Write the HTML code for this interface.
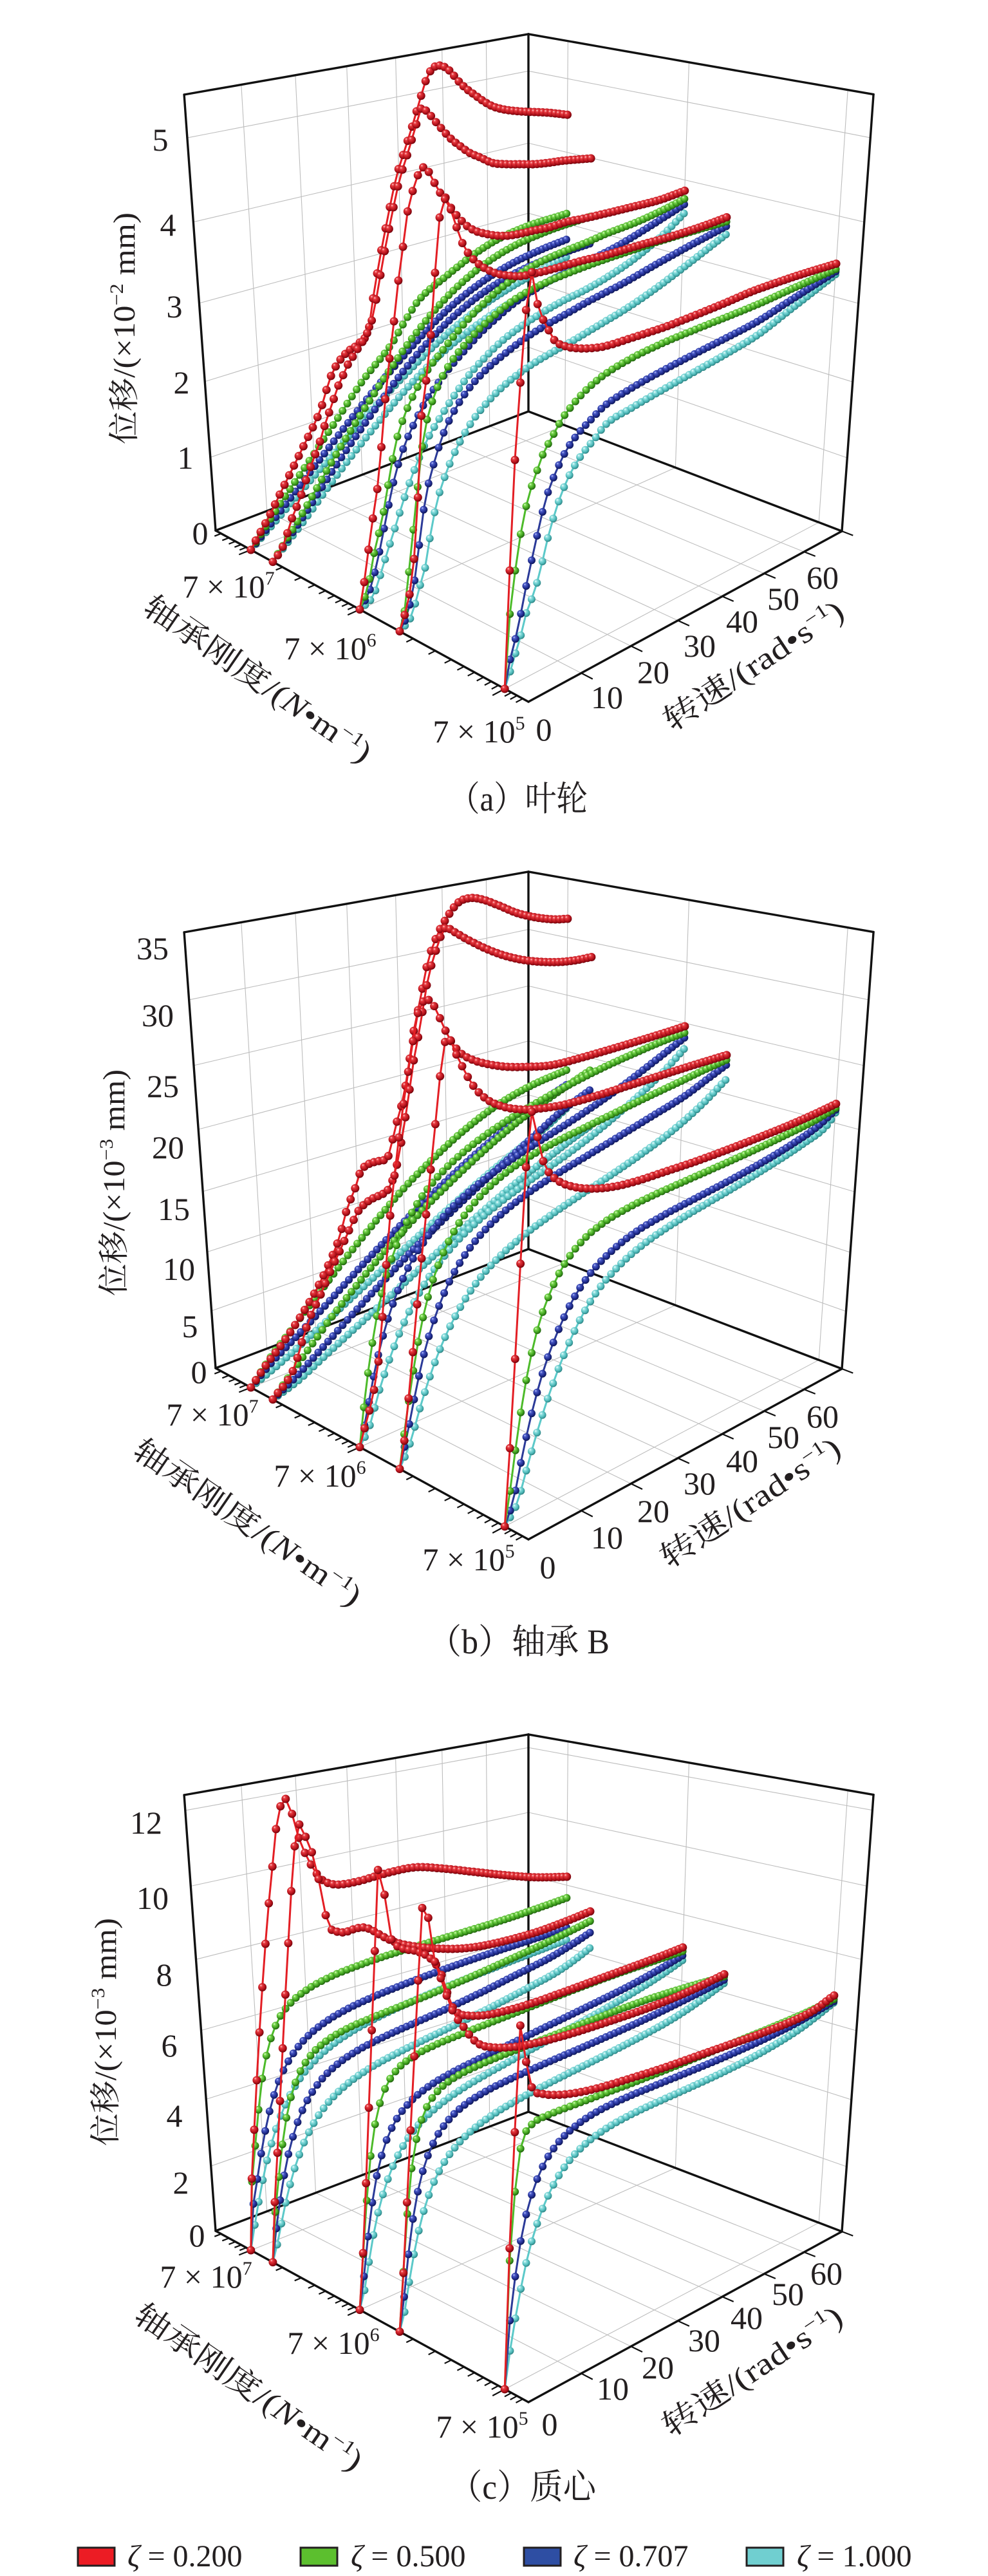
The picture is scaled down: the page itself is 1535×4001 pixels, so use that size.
<!DOCTYPE html>
<html><head><meta charset="utf-8"><title>chart</title>
<style>
html,body{margin:0;padding:0;background:#fff;width:1535px;height:4001px;overflow:hidden}
svg{display:block}
text{font-family:"Liberation Serif","Noto Serif CJK SC",serif;fill:#231f20}
</style></head><body>
<svg id="svg" xmlns="http://www.w3.org/2000/svg" width="1535" height="4001" viewBox="0 0 1535 4001">
<defs>
<radialGradient id="gr" cx="0.42" cy="0.4" r="0.62" fx="0.32" fy="0.28"><stop offset="0" stop-color="#ffd2d2"/><stop offset="0.25" stop-color="#e83a40"/><stop offset="0.7" stop-color="#b3121b"/><stop offset="1" stop-color="#6a0008"/></radialGradient>
<radialGradient id="gg" cx="0.42" cy="0.4" r="0.62" fx="0.32" fy="0.28"><stop offset="0" stop-color="#eaffd8"/><stop offset="0.25" stop-color="#7ad850"/><stop offset="0.7" stop-color="#3c9c1c"/><stop offset="1" stop-color="#1d5a0c"/></radialGradient>
<radialGradient id="gb" cx="0.42" cy="0.4" r="0.62" fx="0.32" fy="0.28"><stop offset="0" stop-color="#c8d0ff"/><stop offset="0.25" stop-color="#4a5ac8"/><stop offset="0.7" stop-color="#1f2b8c"/><stop offset="1" stop-color="#0c1450"/></radialGradient>
<radialGradient id="gc" cx="0.42" cy="0.4" r="0.62" fx="0.32" fy="0.28"><stop offset="0" stop-color="#ffffff"/><stop offset="0.25" stop-color="#92e2e2"/><stop offset="0.7" stop-color="#4cb8b8"/><stop offset="1" stop-color="#2a7c7c"/></radialGradient>
</defs>
<rect width="1535" height="4001" fill="#fff"/>
<g id="p0"></g>
<g id="p1" transform="translate(0,1301)"></g>
<g id="p2" transform="translate(0,2641)"></g>

<!-- panel a text -->
<g font-size="50" text-anchor="middle">
<text x="311" y="845">0</text><text x="288" y="728">1</text><text x="282" y="611">2</text><text x="271" y="493">3</text><text x="261" y="366">4</text><text x="249" y="234">5</text>
<text x="355" y="928">7 × 10<tspan dy="-20" font-size="30">7</tspan></text>
<text x="513" y="1024">7 × 10<tspan dy="-20" font-size="30">6</tspan></text>
<text x="744" y="1153">7 × 10<tspan dy="-20" font-size="30">5</tspan></text>
<text x="845" y="1150">0</text><text x="943" y="1100">10</text><text x="1015" y="1061">20</text><text x="1087" y="1020">30</text><text x="1153" y="982">40</text><text x="1217" y="947">50</text><text x="1278" y="914">60</text>
<text transform="translate(192,510) rotate(-90)" y="17" font-size="48" textLength="360" lengthAdjust="spacingAndGlyphs">位移/(×10<tspan dy="-18" font-size="30">−2</tspan><tspan dy="18"> mm)</tspan></text>
<text transform="translate(401,1054) rotate(34.5)" y="17" font-size="48" textLength="418" lengthAdjust="spacingAndGlyphs">轴承刚度/(<tspan font-style="italic">N</tspan>•m<tspan dy="-18" font-size="30">−1</tspan><tspan dy="18">)</tspan></text>
<text transform="translate(1170,1033) rotate(-33.6)" y="17" font-size="48" textLength="325" lengthAdjust="spacingAndGlyphs">转速/(rad•s<tspan dy="-18" font-size="30">−1</tspan><tspan dy="18">)</tspan></text>
</g>
<!-- panel b text -->
<g font-size="50" text-anchor="middle" transform="translate(0,1301)">
<text x="309" y="847">0</text><text x="295" y="776">5</text><text x="278" y="687">10</text><text x="270" y="594">15</text><text x="261" y="498">20</text><text x="253" y="403">25</text><text x="245" y="293">30</text><text x="237" y="189">35</text>
<text x="330" y="913">7 × 10<tspan dy="-20" font-size="30">7</tspan></text>
<text x="497" y="1008">7 × 10<tspan dy="-20" font-size="30">6</tspan></text>
<text x="728" y="1138">7 × 10<tspan dy="-20" font-size="30">5</tspan></text>
<text x="851" y="1150">0</text><text x="943" y="1104">10</text><text x="1015" y="1063">20</text><text x="1087" y="1020">30</text><text x="1153" y="985">40</text><text x="1217" y="948">50</text><text x="1278" y="916">60</text>
<text transform="translate(176,536) rotate(-90)" y="17" font-size="48" textLength="352" lengthAdjust="spacingAndGlyphs">位移/(×10<tspan dy="-18" font-size="30">−3</tspan><tspan dy="18"> mm)</tspan></text>
<text transform="translate(385,1063) rotate(34.5)" y="17" font-size="48" textLength="418" lengthAdjust="spacingAndGlyphs">轴承刚度/(<tspan font-style="italic">N</tspan>•m<tspan dy="-18" font-size="30">−1</tspan><tspan dy="18">)</tspan></text>
<text transform="translate(1165,1032) rotate(-33.6)" y="17" font-size="48" textLength="325" lengthAdjust="spacingAndGlyphs">转速/(rad•s<tspan dy="-18" font-size="30">−1</tspan><tspan dy="18">)</tspan></text>
</g>
<!-- panel c text -->
<g font-size="50" text-anchor="middle" transform="translate(0,2641)">
<text x="306" y="848">0</text><text x="281" y="766">2</text><text x="271" y="662">4</text><text x="263" y="553">6</text><text x="255" y="443">8</text><text x="237" y="324">10</text><text x="227" y="207">12</text>
<text x="320" y="912">7 × 10<tspan dy="-20" font-size="30">7</tspan></text>
<text x="518" y="1015">7 × 10<tspan dy="-20" font-size="30">6</tspan></text>
<text x="749" y="1145">7 × 10<tspan dy="-20" font-size="30">5</tspan></text>
<text x="854" y="1141">0</text><text x="952" y="1086">10</text><text x="1022" y="1053">20</text><text x="1094" y="1011">30</text><text x="1160" y="976">40</text><text x="1224" y="939">50</text><text x="1284" y="907">60</text>
<text transform="translate(163,515) rotate(-90)" y="17" font-size="48" textLength="354" lengthAdjust="spacingAndGlyphs">位移/(×10<tspan dy="-18" font-size="30">−3</tspan><tspan dy="18"> mm)</tspan></text>
<text transform="translate(387,1066) rotate(34.5)" y="17" font-size="48" textLength="418" lengthAdjust="spacingAndGlyphs">轴承刚度/(<tspan font-style="italic">N</tspan>•m<tspan dy="-18" font-size="30">−1</tspan><tspan dy="18">)</tspan></text>
<text transform="translate(1168,1041) rotate(-33.6)" y="17" font-size="48" textLength="325" lengthAdjust="spacingAndGlyphs">转速/(rad•s<tspan dy="-18" font-size="30">−1</tspan><tspan dy="18">)</tspan></text>
</g>

<!-- captions -->
<text x="805" y="1259" text-anchor="middle" font-size="54" textLength="216" lengthAdjust="spacingAndGlyphs">（a）叶轮</text>
<text x="806" y="2568" text-anchor="middle" font-size="54" textLength="282" lengthAdjust="spacingAndGlyphs">（b）轴承 B</text>
<text x="812" y="3881" text-anchor="middle" font-size="54" textLength="228" lengthAdjust="spacingAndGlyphs">（c）质心</text>

<!-- legend -->
<g stroke="#231f20" stroke-width="3">
<rect x="121" y="3957" width="57" height="28" fill="#ec1c24"/>
<rect x="467" y="3957" width="57" height="28" fill="#5cbf2e"/>
<rect x="814" y="3957" width="57" height="28" fill="#2e4ea3"/>
<rect x="1160" y="3957" width="57" height="28" fill="#70cfd0"/>
</g>
<g font-size="48">
<text x="198" y="3986"><tspan font-style="italic">ζ</tspan> = 0.200</text>
<text x="545" y="3986"><tspan font-style="italic">ζ</tspan> = 0.500</text>
<text x="891" y="3986"><tspan font-style="italic">ζ</tspan> = 0.707</text>
<text x="1238" y="3986"><tspan font-style="italic">ζ</tspan> = 1.000</text>
</g>
</svg>
<script>
(function(){
var NS='http://www.w3.org/2000/svg';
function mk(tag,at,par){var e=document.createElementNS(NS,tag);for(var k in at)e.setAttribute(k,at[k]);par.appendChild(e);return e;}
var X0=821,Y0=1090,X1=335,Y1=824,X2=821,Y2=639,X3=1308,Y3=825;
var sx=X0-X1+X2-X3,sy=Y0-Y1+Y2-Y3,dx1=X1-X2,dx2=X3-X2,dy1=Y1-Y2,dy2=Y3-Y2;
var den=dx1*dy2-dx2*dy1;
var G=(sx*dy2-sy*dx2)/den,Hh=(dx1*sy-dy1*sx)/den;
var A=X1-X0+G*X1,Bc=X3-X0+Hh*X3,C=X0,D=Y1-Y0+G*Y1,E=Y3-Y0+Hh*Y3,Fc=Y0;
var VX=821,VY=7550,H0=826;
function fl(u,v){var w=G*u+Hh*v+1;return [(A*u+Bc*v+C)/w,(D*u+E*v+Fc)/w,w];}
function P(u,v,t){var f=fl(u,v);var dx=f[0]-VX,dy=f[1]-VY;var d0=Math.hypot(dx,dy);var d1=d0+H0/f[2]+9*u*v;var iv=1/d0+t*(1/d1-1/d0);var s=1/iv/d0;return [VX+dx*s,VY+dy*s];}
function INV(u,x,y){var tg=Math.atan2(x-VX,VY-y);var lo=-0.6,hi=1.6;for(var i=0;i<50;i++){var m=(lo+hi)/2;var f=fl(u,m);if(Math.atan2(f[0]-VX,VY-f[1])<tg)lo=m;else hi=m;}var v=(lo+hi)/2;var f2=fl(u,v);var d0=Math.hypot(f2[0]-VX,f2[1]-VY);var d1=d0+H0/f2[2]+9*u*v;var dt=Math.hypot(x-VX,y-VY);return [v,(1/dt-1/d0)/(1/d1-1/d0)];}
function mono(xs,ys){var n=xs.length;var d=[],m=[];for(var i=0;i<n-1;i++)d.push((ys[i+1]-ys[i])/(xs[i+1]-xs[i]));m[0]=d[0];m[n-1]=d[n-2];for(i=1;i<n-1;i++)m[i]=(d[i-1]*d[i]<=0)?0:(d[i-1]+d[i])/2;for(i=0;i<n-1;i++){if(d[i]===0){m[i]=0;m[i+1]=0;continue;}var a=m[i]/d[i],b=m[i+1]/d[i],s=a*a+b*b;if(s>9){var tau=3/Math.sqrt(s);m[i]=tau*a*d[i];m[i+1]=tau*b*d[i];}}
var k0=n-2;while(k0>0&&xs[n-1]-xs[k0]<0.08)k0--;var es=(ys[n-1]-ys[k0])/(xs[n-1]-xs[k0]);if(es>2)es=2;if(es<-2)es=-2;
return function(x){if(x<=xs[0])return ys[0];if(x>=xs[n-1]){return ys[n-1]+es*(x-xs[n-1]);}var j=0;while(j<n-2&&x>xs[j+1])j++;var h=xs[j+1]-xs[j],t=(x-xs[j])/h,t2=t*t,t3=t2*t;return (2*t3-3*t2+1)*ys[j]+(t3-2*t2+t)*h*m[j]+(-2*t3+3*t2)*ys[j+1]+(t3-t2)*h*m[j+1];};}
var MAPS={0:function(p){return p;},2:function(p){return [821+(p[0]-838)*0.985,53+(p[1]-68)*0.8665];},3:function(p){return [821+(p[0]-838)*0.985,53+(p[1]-52)*0.8665];}};
var U=[0.866,0.786,0.490,0.365,0.063];
function curve(u,flat,map,smooth){var pts=[[0,0]];for(var i=0;i<flat.length;i+=2){var q=MAPS[map]([flat[i],flat[i+1]]);var r=INV(u,q[0],q[1]);var v=r[0],t=r[1];var l=pts[pts.length-1];if(v<l[0]+0.003)v=l[0]+0.003;if(t<0)t=0;pts.push([v,t]);}
if(smooth&&pts.length>4){for(var pass=0;pass<2;pass++){var nt=pts.map(function(p){return p[1];});for(var j=2;j<pts.length-1;j++)nt[j]=0.25*pts[j-1][1]+0.5*pts[j][1]+0.25*pts[j+1][1];for(j=2;j<pts.length-1;j++)pts[j][1]=nt[j];}}
var f=mono(pts.map(function(p){return p[0];}),pts.map(function(p){return p[1];}));var out=[];for(var k=0;k<=70;k++){var vv=k/70;var tt=f(vv);if(tt<0)tt=0;out.push(P(u,vv,tt));}return out;}
function ptsStr(a){return a.map(function(p){return p[0].toFixed(1)+','+p[1].toFixed(1);}).join(' ');}
function line3(par,a,b,n,at){var pts=[];for(var i=0;i<=n;i++){var s=i/n;pts.push(P(a[0]+(b[0]-a[0])*s,a[1]+(b[1]-a[1])*s,a[2]+(b[2]-a[2])*s));}var o={points:ptsStr(pts),fill:'none'};for(var k in at)o[k]=at[k];mk('polyline',o,par);}
var MAJ=[0.063,0.490,0.866],DEC=0.4015;
function drawFrame(par,ticks){
 var gs={stroke:'#bdbdbd','stroke-width':1.1};
 var k,i;
 for(k=1;k<=6;k++){var v=k/7;line3(par,[0,v,0],[1,v,0],2,gs);line3(par,[1,v,0],[1,v,1],12,gs);}
 for(i=0;i<MAJ.length;i++){var u=MAJ[i];line3(par,[u,0,0],[u,1,0],2,gs);line3(par,[u,1,0],[u,1,1],12,gs);}
 for(i=0;i<ticks.length;i++){var t=ticks[i];if(t>=0.995)continue;line3(par,[1,0,t],[1,1,t],16,gs);line3(par,[1,1,t],[0,1,t],16,gs);}
 var bs={stroke:'#111','stroke-width':3.4,'stroke-linecap':'round','stroke-linejoin':'round'};
 line3(par,[1,0,0],[0,0,0],2,bs);line3(par,[0,0,0],[0,1,0],2,bs);line3(par,[1,0,0],[1,1,0],2,bs);line3(par,[1,1,0],[0,1,0],2,bs);
 line3(par,[1,0,0],[1,0,1],12,bs);line3(par,[1,1,0],[1,1,1],12,bs);line3(par,[0,1,0],[0,1,1],12,bs);
 line3(par,[1,0,1],[1,1,1],16,bs);line3(par,[1,1,1],[0,1,1],16,bs);
 var tl=[];for(i=0;i<MAJ.length;i++){tl.push([MAJ[i],0.032]);for(var n=2;n<=9;n++){var uu=MAJ[i]+DEC*Math.log10(10/n)*0.93;if(uu<1)tl.push([uu,0.018]);}}
 tl.push([0.045,0.018]);tl.push([0.03,0.018]);tl.push([0.015,0.018]);
 for(i=0;i<tl.length;i++){var a=P(tl[i][0],0,0),b=P(tl[i][0],-tl[i][1],0);mk('line',{x1:a[0].toFixed(1),y1:a[1].toFixed(1),x2:b[0].toFixed(1),y2:b[1].toFixed(1),stroke:'#111','stroke-width':2.2},par);}
 for(k=1;k<=7;k++){var a2=P(0,k/7,0),b2=P(-0.03,k/7,0);mk('line',{x1:a2[0].toFixed(1),y1:a2[1].toFixed(1),x2:b2[0].toFixed(1),y2:b2[1].toFixed(1),stroke:'#111','stroke-width':2.2},par);}
}
var GR={r:'gr',g:'gg',b:'gb',c:'gc'},LC={r:'#e31e24',g:'#4dbb2a',b:'#2b3a98',c:'#5cc9c9'};
function drawCurve(par,pts,col){mk('polyline',{points:ptsStr(pts),fill:'none',stroke:LC[col],'stroke-width':3,'stroke-linejoin':'round'},par);var r=col==='r'?6.5:6;for(var i=0;i<pts.length;i++)mk('circle',{cx:pts[i][0].toFixed(1),cy:pts[i][1].toFixed(1),r:r,fill:'url(#'+GR[col]+')'},par);}
var DATA=[
{c:{
'0r':[0,396,842,416,806,441,755,469,698,498,636,515,582,537,549,558,533,573,510,580,461,590,402,603,335,615,278,630,229,642,191,651,160,662,124,672,106,681,102,694,106,704,116,715,129,726,139,737,147,751,157,765,165,783,170,808,173,829,174,851,175,879,178],
'1r':[0,439,850,455,801,466,775,476,744,487,713,498,683,507,652,515,631,523,605,530,590,539,569,548,554,558,538,566,526,577,500,585,462,595,404,608,338,620,282,635,233,646,196,655,168,665,175,676,188,687,201,701,216,715,227,729,237,747,245,765,253,786,255,808,255,829,255,851,253,872,250,918,246],
'2r':[0,569,883,573,850,581,793,589,737,594,675,599,616,605,559,612,500,619,435,626,384,633,330,645,285,656,260,669,271,676,286,685,301,694,309,703,327,712,337,722,348,737,358,754,363,772,366,790,366,808,363,829,358,854,353,879,345,904,340,939,332,980,322,1020,312,1067,295],
'3r':[0,635,930,642,883,646,827,651,739,654,657,665,569,672,484,678,394,683,338,690,309,701,327,712,361,719,379,728,394,740,407,754,417,772,425,790,428,808,429,829,425,851,420,879,412,908,404,939,397,990,382,1040,368,1090,352,1133,336],
'4r':[0,788,980,792,883,795,801,804,657,815,513,824,415,831,456,842,492,851,510,861,528,879,538,897,541,915,541,939,538,981,525,1030,509,1079,490,1128,470,1178,449,1227,432,1301,409],
'0g':[0,437,780,480,719,523,652,565,587,608,523,630,496,651,470,694,425,737,390,779,365,822,347,870,335],
'0b':[0,450,775,510,697,570,620,630,540,684,488,737,440,790,408,840,385,880,372],
'0c':[0,450,784,510,714,570,645,630,575,684,525,737,480,790,445,840,418,882,398],
'1g':[0,470,797,520,713,575,620,630,528,684,465,737,415,790,382,850,355,915,337],
'1b':[0,470,804,520,729,575,646,630,562,684,505,737,460,790,425,850,398,915,379],
'1c':[0,470,812,520,745,575,671,630,597,684,545,737,505,790,470,850,437,917,405],
'2g':[0,572,910,581,883,594,796,605,739,615,680,630,636,647,600,665,574,687,544,708,518,729,492,751,471,772,451,794,435,815,420,843,404,879,389,915,374,939,366,990,345,1030,328,1067,307],
'2b':[0,575,915,590,853,601,796,612,744,626,693,644,652,662,621,683,590,704,564,726,538,747,518,772,492,797,471,826,451,854,435,886,420,915,407,960,385,1010,355,1067,315],
'2c':[0,580,925,590,900,601,868,615,816,630,765,647,719,665,677,687,641,708,610,729,580,754,554,779,528,808,507,840,487,872,466,908,451,939,438,980,410,1025,375,1067,327],
'3g':[0,630,940,637,883,644,796,651,729,658,672,669,626,683,590,701,559,722,533,744,513,769,487,794,466,822,451,854,435,890,420,925,410,980,388,1030,372,1080,358,1133,343],
'3b':[0,634,950,647,883,654,816,663,760,676,708,690,667,708,631,729,600,754,574,783,549,811,528,843,507,879,487,915,471,970,440,1020,410,1075,380,1133,349],
'3c':[0,640,955,650,920,662,883,669,827,679,775,694,729,712,688,733,652,758,621,786,595,818,569,854,549,890,528,925,513,975,480,1025,445,1075,408,1128,364],
'4g':[0,789,987,796,930,804,847,813,801,822,765,833,734,843,706,858,677,872,652,890,626,911,605,939,582,981,552,1030,532,1079,512,1128,493,1178,473,1227,453,1301,417],
'4b':[0,791,1031,801,991,809,953,816,918,824,883,833,837,842,796,852,760,865,729,879,698,897,672,918,652,939,631,981,600,1030,575,1079,550,1128,525,1178,500,1227,476,1301,420],
'4c':[0,792,1045,801,1014,810,984,817,955,830,920,840,889,849,842,860,801,872,765,886,734,904,703,925,677,939,662,981,632,1030,605,1079,578,1128,550,1178,522,1227,494,1301,424]
}},
{c:{
'0r':[0,415,817,440,784,465,747,490,705,510,664,527,622,539,577,552,544,562,515,581,504,600,500,610,469,618,436,627,403,635,353,643,299,651,261,665,192,680,150,697,120,713,100,729,94,749,96,774,105,803,117,833,124,862,127,882,126],
'1r':[0,456,826,469,784,481,747,498,710,514,672,531,635,544,606,556,581,573,564,589,556,602,548,614,519,622,481,631,427,639,373,645,332,651,303,665,219,677,176,687,148,693,140,705,146,724,157,754,172,783,183,813,190,843,193,872,193,897,190,921,185],
'2r':[0,587,822,593,759,600,664,606,589,614,515,622,448,631,386,639,332,654,258,664,252,676,264,687,289,700,315,715,334,734,345,759,352,788,356,818,356,853,354,892,345,931,334,981,319,1030,304,1067,292],
'3r':[2,642,1090,650,1000,658,900,666,800,675,700,684,600,693,500,700,420,706,375,712,365,720,385,735,420,750,450,770,474,795,488,825,494,860,492,900,484,950,468,1000,450,1050,432,1100,414,1155,395],
'4r':[2,806,1150,812,1040,818,920,824,800,830,680,836,570,843,498,850,530,858,575,868,603,885,622,910,633,940,636,975,632,1010,622,1050,607,1100,588,1150,567,1200,545,1250,522,1290,502,1325,483],
'0g':[2,430,940,460,895,490,850,520,805,550,760,582,715,615,670,650,625,690,578,730,535,770,498,810,468,850,445,895,425],
'0b':[2,435,945,470,905,505,862,540,818,575,774,612,730,650,686,690,642,730,598,770,558,810,520,850,485,895,452],
'0c':[2,440,955,478,918,516,878,555,836,595,794,635,752,675,710,715,668,755,628,795,590,835,552,870,520,895,495],
'1g':[2,465,965,495,918,525,870,558,822,592,774,628,726,666,680,706,634,746,590,786,548,826,510,866,476,905,446,940,420],
'1b':[2,470,975,505,932,540,888,576,842,614,796,652,750,692,705,732,660,772,617,812,577,852,540,892,490,940,455],
'1c':[2,475,980,512,942,550,902,590,860,630,818,670,776,710,734,750,692,790,652,830,614,870,578,905,548,940,520],
'2g':[2,580,1010,590,920,602,840,618,770,638,710,662,660,692,615,728,575,768,540,812,508,860,475,910,445,960,415,1010,390,1050,370,1088,355],
'2b':[2,583,1040,595,960,610,890,628,825,650,770,678,720,710,676,748,636,790,600,835,566,885,530,935,495,985,455,1035,412,1088,362],
'2c':[2,588,1060,602,1000,619,940,639,880,663,825,691,775,723,730,760,690,800,654,845,618,895,580,945,538,995,490,1045,435,1088,380],
'3g':[2,645,1050,656,960,668,880,683,810,702,750,725,700,755,655,790,615,830,582,875,555,925,528,975,500,1025,472,1075,445,1115,422,1155,403],
'3b':[2,648,1070,660,1000,673,930,690,865,710,805,735,755,765,712,800,675,840,640,885,608,935,575,985,540,1035,505,1085,470,1120,440,1155,410],
'3c':[2,652,1090,667,1030,684,965,704,905,728,850,756,800,790,757,828,720,870,685,915,652,965,615,1015,577,1065,535,1110,490,1150,440],
'4g':[2,810,1170,822,1060,836,960,852,880,872,815,895,765,922,725,955,695,995,668,1040,645,1090,620,1140,595,1190,570,1240,543,1290,515,1325,490],
'4b':[2,815,1190,830,1100,846,1020,864,950,885,885,908,830,935,785,968,745,1005,712,1050,683,1100,655,1150,625,1200,595,1250,562,1295,525,1325,492],
'4c':[2,820,1200,838,1125,856,1055,876,985,898,920,922,860,950,810,985,765,1025,728,1070,695,1120,662,1170,630,1220,595,1270,560,1310,520,1325,495]
}},
{c:{
'0r':[3,398,930,402,840,406,750,410,660,414,580,418,510,423,430,428,360,434,290,440,220,447,180,452,166,458,172,464,190,470,215,478,245,488,270,500,295,512,312,528,320,548,320,570,315,600,305,630,296,660,290,700,292,750,298,800,304,850,308,898,307],
'1r':[3,435,950,439,870,443,780,447,690,451,600,455,510,459,430,463,350,467,280,472,230,477,213,483,222,490,250,497,265,505,300,512,340,518,375,525,398,535,405,550,406,565,400,580,398,595,405,610,415,630,425,660,432,700,436,740,435,790,425,840,410,890,390,938,368],
'2r':[3,575,1040,578,960,581,880,584,790,587,700,590,610,593,520,596,430,598,350,600,300,602,292,606,300,610,330,615,380,620,412,628,428,640,436,660,440,685,455,700,480,710,515,718,540,728,552,745,556,770,555,800,548,840,535,890,515,950,490,1010,465,1050,448,1083,433],
'3r':[3,638,1080,642,990,646,900,650,810,654,720,658,630,662,540,666,450,669,380,672,357,677,365,682,395,687,440,693,470,702,495,712,530,722,555,735,575,748,595,762,608,785,613,815,612,850,605,900,590,950,572,1000,553,1050,532,1100,508,1150,480],
'4r':[3,800,1180,804,1080,808,980,812,880,816,780,819,680,821,600,823,572,827,580,832,620,838,665,845,688,860,696,880,698,910,695,950,685,1000,668,1050,650,1100,630,1150,610,1200,590,1250,568,1290,545,1317,522],
'0g':[3,400,900,405,810,411,730,418,660,428,600,442,560,462,530,490,505,525,485,570,465,620,445,680,425,740,405,800,385,850,365,898,345],
'0b':[3,402,920,410,850,419,780,430,720,444,668,463,625,487,592,517,565,553,542,596,520,645,498,700,475,760,450,820,428,870,410,898,398],
'0c':[3,405,940,414,880,424,820,437,765,453,715,473,672,498,636,528,606,563,580,604,556,650,532,700,508,755,483,810,458,860,436,898,420],
'1g':[3,438,920,444,840,451,770,460,710,473,660,492,625,518,598,550,578,590,560,635,540,685,518,740,492,800,460,860,428,905,402,938,385],
'1b':[3,440,940,448,870,458,805,471,750,488,705,510,668,538,638,572,614,612,592,658,570,710,545,765,515,820,482,875,450,910,425,938,405],
'1c':[3,443,960,453,900,465,842,480,790,499,745,523,706,553,674,588,648,628,624,673,600,723,573,778,543,833,510,885,475,915,452,938,432],
'2g':[3,576,1010,580,930,585,850,591,780,600,720,613,675,632,645,658,625,690,608,730,590,775,570,825,548,875,525,925,502,975,482,1030,460,1083,440],
'2b':[3,578,1030,584,960,591,890,600,830,612,780,628,740,650,708,678,682,712,660,752,638,797,614,845,588,895,560,945,532,995,505,1040,478,1083,447],
'2c':[3,580,1045,588,985,597,925,609,870,624,822,643,780,667,745,696,715,730,688,770,662,815,634,862,605,912,574,962,542,1010,510,1050,482,1083,455],
'3g':[3,639,1050,643,970,648,890,654,820,663,760,676,715,695,685,720,665,752,648,790,630,835,610,885,588,935,565,985,543,1035,522,1090,502,1150,485],
'3b':[3,641,1070,647,1000,654,930,663,868,675,815,691,772,712,738,738,712,770,690,808,670,852,648,900,624,950,600,1000,575,1050,548,1100,520,1150,490],
'3c':[3,643,1085,651,1025,660,965,671,910,685,860,703,818,726,783,754,754,787,728,826,703,870,677,918,650,968,622,1018,593,1068,562,1110,530,1150,495],
'4g':[3,800,1160,804,1080,808,1000,813,920,818,850,824,790,832,760,845,745,865,735,895,722,935,705,985,685,1040,660,1100,633,1160,605,1220,578,1275,553,1317,528],
'4b':[3,802,1180,808,1110,815,1040,823,975,833,915,846,862,862,818,883,782,910,752,942,728,982,706,1030,685,1085,660,1145,632,1205,603,1265,570,1317,532],
'4c':[3,804,1195,812,1135,821,1075,831,1015,843,958,858,905,876,858,898,818,925,785,958,757,997,733,1042,710,1095,685,1152,655,1210,622,1268,585,1317,535]
}}];
var TICKS=[
 [1,2,3,4,5].map(function(k){return k/5.5;}),
 [1,2,3,4,5,6].map(function(k){return k/7;}),
 [2,4,6,8,10,12].map(function(k){return k/12.4;})
];
var ORDER=['c','b','g','r'];
for(var p=0;p<3;p++){
 var par=document.getElementById('p'+p);
 drawFrame(par,TICKS[p]);
 var d=DATA[p];
 for(var g=0;g<5;g++){
  for(var o=0;o<4;o++){
   var key=g+ORDER[o];
   var arr=d.c[key];
   if(!arr)continue;
   drawCurve(par,curve(U[g],arr.slice(1),arr[0],ORDER[o]!=='r'),ORDER[o]);
  }
 }
}
})();
</script>
</body></html>
